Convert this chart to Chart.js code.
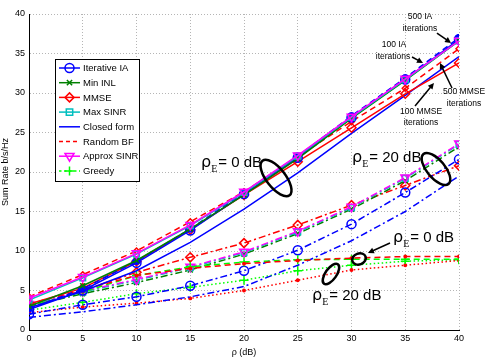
<!DOCTYPE html>
<html><head><meta charset="utf-8">
<script src="https://cdn.jsdelivr.net/npm/chart.js@4.4.1/dist/chart.umd.min.js"></script>
<style>html,body{margin:0;padding:0;background:#fff}canvas{display:block}</style>
</head><body>
<canvas id="c" width="485" height="360"></canvas>
<script>
// ---- data ----
const rho = [0, 5, 10, 15, 20, 25, 30, 35, 40];
const xTickLabels = ['0','5','10','15','20','25','30','35','40'];
const yTickLabels = ['0','5','10','15','20','25','30','35','40'];
// rho_E = 0 dB group
const approxE0  = [4.0, 6.7, 9.7, 13.3, 17.5, 22.1, 27.0, 31.8, 36.6];
const maxSinrE0 = [3.8, 6.6, 9.6, 13.2, 17.4, 22.0, 26.9, 31.7, 36.6];
const minInlE0  = [3.0, 5.6, 8.8, 12.8, 17.1, 21.7, 26.8, 31.6, 36.6];
const iaE0      = [2.6, 5.0, 8.5, 12.6, 17.2, 21.8, 26.9, 31.7, 36.8];
const ia500E0   = [2.7, 5.2, 8.7, 12.8, 17.4, 22.0, 27.1, 31.9, 37.0];
const mmseE0    = [3.3, 5.3, 8.7, 12.7, 17.1, 21.3, 25.6, 29.9, 33.8];
const mmse500E0 = [4.2, 7.0, 10.0, 13.7, 17.5, 21.9, 26.4, 30.6, 35.6];
const closedE0  = [2.8, 4.9, 7.5, 11.1, 15.3, 19.9, 24.9, 29.7, 34.6];
const randBfE0  = [3.3, 5.1, 6.9, 7.8, 8.4, 8.8, 9.1, 9.3, 9.3];
const greedyE0  = [3.0, 4.8, 6.9, 8.0, 8.6, 8.9, 8.95, 8.95, 8.95];
// rho_E = 20 dB group
const approxE20  = [3.3, 4.9, 6.4, 8.0, 9.9, 12.5, 15.6, 19.3, 23.6];
const maxSinrE20 = [3.2, 4.8, 6.3, 7.9, 9.8, 12.4, 15.5, 19.2, 23.5];
const minInlE20  = [3.0, 4.6, 6.0, 7.6, 9.6, 12.2, 15.3, 18.9, 23.2];
const iaE20      = [2.0, 3.2, 4.2, 5.6, 7.5, 10.1, 13.4, 17.4, 21.6];
const mmseE20    = [2.9, 5.0, 7.3, 9.2, 11.0, 13.3, 15.8, 18.3, 20.8];
const closedE20  = [1.6, 2.3, 3.2, 4.2, 5.5, 8.2, 11.3, 15.0, 19.5];
const randBfE20  = [2.2, 2.9, 3.4, 4.0, 5.0, 6.3, 7.6, 8.2, 8.8];
const greedyE20  = [2.5, 3.5, 4.6, 5.4, 6.3, 7.5, 8.2, 8.7, 8.9];

const legendNames = ['Iterative IA','Min INL','MMSE','Max SINR','Closed form','Random BF','Approx SINR','Greedy'];

// ---- styles ----
const BLUE='#0000ff', GREEN='#008000', RED='#ff0000', CYAN='#00bfbf', MAG='#ff00ff', LGREEN='#00ff00';
const SOLID=[], DASH=[6,4], DASHDOT=[7,3,2,3], DOT=[1.5,2.5];

function mk(values, color, dash, ps, r, opts) {
  opts = opts || {};
  return {
    label: opts.label || '',
    data: rho.map((x, i) => ({x: x, y: values[i]})),
    borderColor: color, borderWidth: 1.5, borderDash: dash,
    pointStyle: ps || 'circle', pointRadius: ps ? r : 0, pointHoverRadius: 0,
    pointRotation: opts.rot || 0,
    pointBorderColor: color, pointBorderWidth: 1.5,
    pointBackgroundColor: opts.filled ? color : 'rgba(0,0,0,0)',
    tension: 0, fill: false
  };
}

const datasets = [
  mk(approxE0, MAG, SOLID, 'triangle', 5, {rot:180}),
  mk(maxSinrE0, CYAN, SOLID, 'rect', 4),
  mk(minInlE0, GREEN, SOLID, 'crossRot', 3.5),
  mk(iaE0, BLUE, SOLID, 'circle', 4.5),
  mk(ia500E0, BLUE, DASH, 'circle', 3, {filled:true}),
  mk(mmseE0, RED, SOLID, 'rectRot', 4.5),
  mk(mmse500E0, RED, DASH, 'rectRot', 3),
  mk(closedE0, BLUE, SOLID, null, 0),
  mk(randBfE0, RED, DASH, 'circle', 1.2, {filled:true}),
  mk(greedyE0, LGREEN, DASH, 'cross', 4.5),
  mk(approxE20, MAG, DASHDOT, 'triangle', 5, {rot:180}),
  mk(maxSinrE20, CYAN, DASHDOT, 'rect', 4),
  mk(minInlE20, GREEN, DASHDOT, 'crossRot', 3.5),
  mk(iaE20, BLUE, DASHDOT, 'circle', 4.5),
  mk(mmseE20, RED, DASHDOT, 'rectRot', 4.5),
  mk(closedE20, BLUE, DASHDOT, null, 0),
  mk(randBfE20, RED, DOT, 'circle', 1.2, {filled:true}),
  mk(greedyE20, LGREEN, DOT, 'cross', 4.5)
];

// ---- annotations (data coordinates) ----
const ellipses = [
  {x:22.98, y:19.24, rx:22, ry:9.5, rot:52, lw:2.5},
  {x:37.86, y:20.38, rx:19.5, ry:9, rot:50, lw:2.5},
  {x:30.7, y:8.99, rx:7, ry:5.5, rot:-20, lw:2.5},
  {x:28.09, y:7.09, rx:12, ry:5.5, rot:-55, lw:2.5}
];
const arrows = [
  {x1:37.95, y1:37.59, x2:39.26, y2:36.33},
  {x1:35.63, y1:34.56, x2:36.65, y2:33.80},
  {x1:39.35, y1:30.63, x2:38.23, y2:33.80},
  {x1:35.91, y1:28.35, x2:37.67, y2:31.27},
  {x1:33.58, y1:11.01, x2:31.53, y2:9.75}
];
const smallTexts = [
  {t:'500 IA', x:36.37, y:39.62}, {t:'iterations', x:36.37, y:38.1},
  {t:'100 IA', x:33.95, y:36.08}, {t:'iterations', x:33.86, y:34.56},
  {t:'500 MMSE', x:40.47, y:30.13}, {t:'iterations', x:40.47, y:28.61},
  {t:'100 MMSE', x:36.47, y:27.59}, {t:'iterations', x:36.47, y:26.2}
];
const rhoTexts = [
  {rest:'= 0 dB', x:16.0, y:21.27},
  {rest:'= 20 dB', x:30.05, y:21.9},
  {rest:'= 0 dB', x:33.86, y:11.77},
  {rest:'= 20 dB', x:26.33, y:4.43}
];

function drawMarker(ctx, ps, x, y, r, rot, color, filled) {
  ctx.save();
  ctx.translate(x, y);
  ctx.rotate((rot||0)*Math.PI/180);
  ctx.beginPath();
  ctx.setLineDash([]);
  ctx.strokeStyle = color; ctx.fillStyle = color; ctx.lineWidth = 1.5;
  if (ps === 'circle') { ctx.arc(0,0,r,0,2*Math.PI); }
  else if (ps === 'rect') { ctx.rect(-r*0.8,-r*0.8,r*1.6,r*1.6); }
  else if (ps === 'rectRot') { ctx.moveTo(0,-r); ctx.lineTo(r,0); ctx.lineTo(0,r); ctx.lineTo(-r,0); ctx.closePath(); }
  else if (ps === 'triangle') { const h=r*1.5; ctx.moveTo(0,-r); ctx.lineTo(r*0.9,r*0.55); ctx.lineTo(-r*0.9,r*0.55); ctx.closePath(); }
  else if (ps === 'cross') { ctx.moveTo(-r,0); ctx.lineTo(r,0); ctx.moveTo(0,-r); ctx.lineTo(0,r); }
  else if (ps === 'crossRot') { const d=r*0.75; ctx.moveTo(-d,-d); ctx.lineTo(d,d); ctx.moveTo(-d,d); ctx.lineTo(d,-d); }
  if (filled) ctx.fill();
  ctx.stroke();
  ctx.restore();
}

const legendIdx = [3, 2, 5, 1, 7, 8, 0, 9]; // datasets shown in legend, in order

const annotPlugin = {
  id: 'annot',
  afterDatasetsDraw(chart) {
    const ctx = chart.ctx, xs = chart.scales.x, ys = chart.scales.y, ca = chart.chartArea;
    const X = v => xs.getPixelForValue(v), Y = v => ys.getPixelForValue(v);
    ctx.save();
    ctx.strokeStyle = '#000'; ctx.fillStyle = '#000';
    ellipses.forEach(e => {
      ctx.beginPath();
      ctx.ellipse(X(e.x), Y(e.y), e.rx, e.ry, e.rot*Math.PI/180, 0, 2*Math.PI);
      ctx.lineWidth = e.lw; ctx.stroke();
    });
    arrows.forEach(a => {
      const x1=X(a.x1), y1=Y(a.y1), x2=X(a.x2), y2=Y(a.y2);
      const ang = Math.atan2(y2-y1, x2-x1), L=6, W=3;
      ctx.beginPath(); ctx.lineWidth = 1.5;
      ctx.moveTo(x1,y1); ctx.lineTo(x2 - L*0.8*Math.cos(ang), y2 - L*0.8*Math.sin(ang)); ctx.stroke();
      ctx.beginPath();
      ctx.moveTo(x2,y2);
      ctx.lineTo(x2 - L*Math.cos(ang) + W*Math.sin(ang), y2 - L*Math.sin(ang) - W*Math.cos(ang));
      ctx.lineTo(x2 - L*Math.cos(ang) - W*Math.sin(ang), y2 - L*Math.sin(ang) + W*Math.cos(ang));
      ctx.closePath(); ctx.fill();
    });
    ctx.textAlign = 'center'; ctx.textBaseline = 'middle';
    ctx.font = '8.5px "Liberation Sans", Arial, sans-serif';
    smallTexts.forEach(s => ctx.fillText(s.t, X(s.x), Y(s.y)));
    ctx.textAlign = 'left'; ctx.textBaseline = 'alphabetic';
    rhoTexts.forEach(r => {
      let x = X(r.x); const yb = Y(r.y) + 5;
      ctx.font = '16px "DejaVu Sans", sans-serif';
      ctx.fillText('\u03c1', x, yb); x += ctx.measureText('\u03c1').width;
      ctx.font = '10px "Liberation Serif", serif';
      ctx.fillText('E', x, yb + 5); x += ctx.measureText('E').width + 1;
      ctx.font = '15px "Liberation Sans", Arial, sans-serif';
      ctx.fillText(r.rest, x, yb);
    });
    // legend
    const lx = ca.left + 26, ly = ca.top + 45, lw = 84, lh = 122;
    ctx.fillStyle = '#fff'; ctx.fillRect(lx, ly, lw, lh);
    ctx.strokeStyle = '#000'; ctx.lineWidth = 1; ctx.setLineDash([]);
    ctx.strokeRect(lx+0.5, ly+0.5, lw, lh);
    ctx.font = '9.5px "Liberation Sans", Arial, sans-serif';
    ctx.textBaseline = 'middle'; ctx.textAlign = 'left';
    legendIdx.forEach((di, k) => {
      const d = datasets[di];
      const yy = ly + 9 + k*14.7;
      ctx.save();
      ctx.strokeStyle = d.borderColor; ctx.lineWidth = 1.5;
      ctx.setLineDash(d.borderDash.length ? [4,3] : []);
      if (di === 9) ctx.setLineDash([2.5,2.5]);
      ctx.beginPath(); ctx.moveTo(lx+4, yy); ctx.lineTo(lx+25, yy); ctx.stroke();
      ctx.restore();
      if (d.pointRadius > 2) drawMarker(ctx, d.pointStyle, lx+14.5, yy, d.pointRadius, d.pointRotation, d.borderColor, false);
      ctx.fillStyle = '#000';
      ctx.fillText(legendNames[k], lx+28, yy+0.5);
    });
    ctx.restore();
  }
};

const gridCol = '#b5b5b5';
new Chart(document.getElementById('c'), {
  type: 'line',
  data: { datasets: datasets },
  options: {
    responsive: false, animation: false, devicePixelRatio: 1,
    layout: { padding: { left: 0, right: 26, top: 14, bottom: 0 } },
    plugins: { legend: { display: false }, tooltip: { enabled: false } },
    scales: {
      x: {
        type: 'linear', min: 0, max: 40,
        afterFit: s => { s.height = 30; },
        ticks: { stepSize: 5, color: '#000', padding: 3, font: { family: '"Liberation Sans", Arial', size: 9 },
                 callback: (v) => xTickLabels[rho.indexOf(v)] },
        grid: { color: gridCol, lineWidth: 1, drawTicks: false },
        border: { display: true, color: '#000', width: 1, dash: [1, 2] },
        title: { display: true, text: '\u03c1 (dB)', color: '#000', padding: {top: 0, bottom: 2},
                 font: { family: '"Liberation Sans", Arial', size: 9 } }
      },
      y: {
        min: 0, max: 40,
        afterFit: s => { s.width = 29; },
        ticks: { stepSize: 5, color: '#000', padding: 4, font: { family: '"Liberation Sans", Arial', size: 9 },
                 callback: (v) => yTickLabels[v/5] },
        grid: { color: gridCol, lineWidth: 1, drawTicks: false },
        border: { display: true, color: '#000', width: 1, dash: [1, 2] },
        title: { display: true, text: 'Sum Rate b/s/Hz', color: '#000', padding: {top: 0, bottom: 0},
                 font: { family: '"Liberation Sans", Arial', size: 9 } }
      }
    }
  },
  plugins: [annotPlugin]
});
</script>
</body></html>
